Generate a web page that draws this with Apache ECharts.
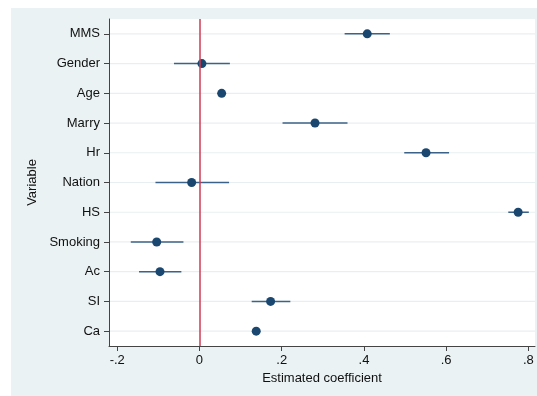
<!DOCTYPE html>
<html>
<head>
<meta charset="utf-8">
<script src="https://cdn.jsdelivr.net/npm/echarts@6/dist/echarts.min.js"></script>
<style>
html,body{margin:0;padding:0;background:#ffffff;}
#chart{width:537px;height:396px;}
</style>
</head>
<body>
<div id="chart"></div>
<script>
const categories = ["MMS","Gender","Age","Marry","Hr","Nation","HS","Smoking","Ac","SI","Ca"];
const estimates  = [0.408, 0.006, 0.054, 0.281, 0.551, -0.019, 0.775, -0.104, -0.096, 0.173, 0.138];
const ciLower    = [0.353, -0.062, 0.048, 0.202, 0.498, -0.107, 0.751, -0.167, -0.147, 0.127, 0.134];
const ciUpper    = [0.463, 0.074, 0.060, 0.360, 0.607, 0.072, 0.801, -0.039, -0.044, 0.221, 0.142];
const xTicks     = [-0.2, 0, 0.2, 0.4, 0.6, 0.8];

const fmt = v => {
  if (Math.abs(v) < 1e-9) return "0";
  let s = String(Math.round(v * 10) / 10);
  return s.replace(/^(-?)0\./, "$1.");
};

const chart = echarts.init(document.getElementById('chart'), null, {renderer: 'canvas'});
const font = "'Liberation Sans', Arial, sans-serif";
chart.setOption({
  animation: false,
  backgroundColor: '#ffffff',
  graphic: [{
    type: 'rect', z: -10, silent: true,
    shape: {x: 11, y: 8, width: 526, height: 388},
    style: {fill: '#eaf2f3'}
  }],
  grid: {left: 109, right: 2, top: 19, bottom: 50, show: true, backgroundColor: '#ffffff', borderWidth: 0},
  xAxis: {
    type: 'value', min: -0.22, max: 0.816,
    name: 'Estimated coefficient', nameLocation: 'middle', nameGap: 26,
    nameTextStyle: {color: '#111', fontSize: 13, fontFamily: font},
    axisLine: {show: true, onZero: false, lineStyle: {color: '#444', width: 1}},
    axisTick: {show: true, inside: false, length: 5, lineStyle: {color: '#444'}, customValues: xTicks},
    axisLabel: {color: '#111', fontSize: 13, fontFamily: font, margin: 8, customValues: xTicks, formatter: fmt},
    splitLine: {show: false}
  },
  yAxis: {
    type: 'category', data: categories, inverse: true,
    name: 'Variable', nameLocation: 'middle', nameGap: 69,
    nameTextStyle: {color: '#111', fontSize: 13, fontFamily: font},
    axisLine: {show: true, onZero: false, lineStyle: {color: '#444', width: 1}},
    axisTick: {show: true, alignWithLabel: true, length: 5, lineStyle: {color: '#444'}},
    axisLabel: {color: '#111', fontSize: 13, fontFamily: font, margin: 9},
    splitLine: {show: false}
  },
  series: [
    {
      type: 'custom',
      silent: true,
      data: categories.map((c, i) => [0, i]),
      encode: {x: 0, y: 1},
      renderItem: function (params, api) {
        const cs = params.coordSys;
        const p = api.coord([0, api.value(1)]);
        return {
          type: 'line',
          shape: {x1: cs.x + 1, y1: p[1], x2: cs.x + cs.width, y2: p[1]},
          style: {stroke: '#e8eff1', lineWidth: 1.2}
        };
      },
      z: 1
    },
    {
      type: 'custom',
      data: categories.map((c, i) => [ciLower[i], ciUpper[i], i]),
      encode: {x: [0, 1], y: 2},
      renderItem: function (params, api) {
        const p1 = api.coord([api.value(0), api.value(2)]);
        const p2 = api.coord([api.value(1), api.value(2)]);
        return {
          type: 'line',
          shape: {x1: p1[0], y1: p1[1], x2: p2[0], y2: p2[1]},
          style: {stroke: '#3b6389', lineWidth: 1.5}
        };
      },
      z: 3
    },
    {
      type: 'scatter',
      data: categories.map((c, i) => [estimates[i], i]),
      symbol: 'circle', symbolSize: 9,
      itemStyle: {color: '#1a476f', opacity: 1},
      z: 4,
      markLine: {
        silent: true, symbol: 'none', label: {show: false},
        lineStyle: {color: '#d03a52', width: 1.5, type: 'solid'},
        data: [{xAxis: 0}]
      }
    }
  ]
});
</script>
</body>
</html>
